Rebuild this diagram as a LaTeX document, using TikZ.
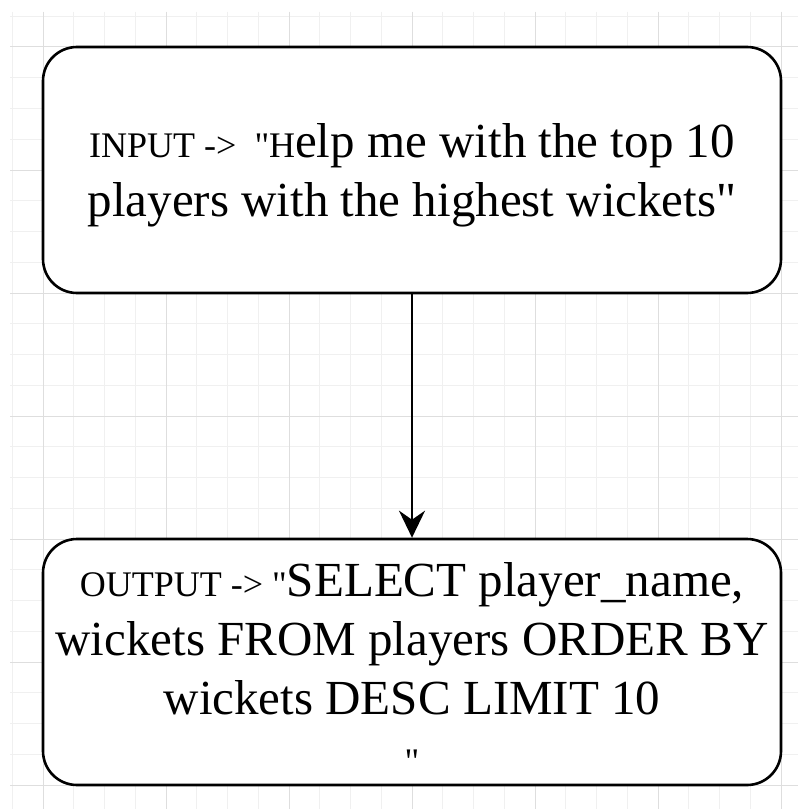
\documentclass[tikz,border=0pt]{standalone}
\usepackage{fontspec}
\setmainfont{Liberation Serif}[Ligatures=TeXOff]
\usetikzlibrary{arrows.meta}

\begin{document}
\begin{tikzpicture}[x=1bp, y=-1bp,
    box/.style={draw=borderColour, line width=2.6bp, rounded corners=34bp, fill=white,
        minimum width=738bp, minimum height=246bp, inner sep=0pt, align=center,
        font=\fontsize{49bp}{59bp}\selectfont},
    flow/.style={draw=borderColour, line width=2.6bp,
        -{Stealth[length=27bp, width=26bp, inset=9bp]}}]
    % Define colours
    \definecolor{borderColour}{HTML}{000000}
    \definecolor{minorColour}{HTML}{F0F0F0}
    \definecolor{majorColour}{HTML}{DEDEDE}

    % Define grid spacing and small font
    \def\cell{30.75}
    \def\smallFont{\fontsize{36bp}{43bp}\selectfont}

    % Fix the page size
    \useasboundingbox[fill=white] (0,0) rectangle (798,809);

    % Draw grid
    \foreach \i in {0,...,25}
        \draw[minorColour, line width=1bp] (12.25+\i*\cell,12) -- (12.25+\i*\cell,809);
    \foreach \j in {0,...,25}
        \draw[minorColour, line width=1bp] (10,16.25+\j*\cell) -- (798,16.25+\j*\cell);
    \foreach \i in {1,5,...,25}
        \draw[majorColour, line width=1bp] (12.25+\i*\cell,12) -- (12.25+\i*\cell,809);
    \foreach \j in {1,5,...,25}
        \draw[majorColour, line width=1bp] (10,16.25+\j*\cell) -- (798,16.25+\j*\cell);

    % Draw the two boxes
    \node[box] (input) at (412,170)
        {\rule{0pt}{45bp}{\smallFont INPUT ->\ \ "H}elp me with the top 10\\players with the highest wickets"};
    \node[box] (output) at (412,662)
        {\rule{0pt}{46bp}{\smallFont OUTPUT -> "}SELECT player\_name,\\wickets FROM players ORDER BY\\wickets DESC LIMIT 10\\{\smallFont "}};

    % Connect input to output
    \draw[flow] (input) -- (output);
\end{tikzpicture}
\end{document}
